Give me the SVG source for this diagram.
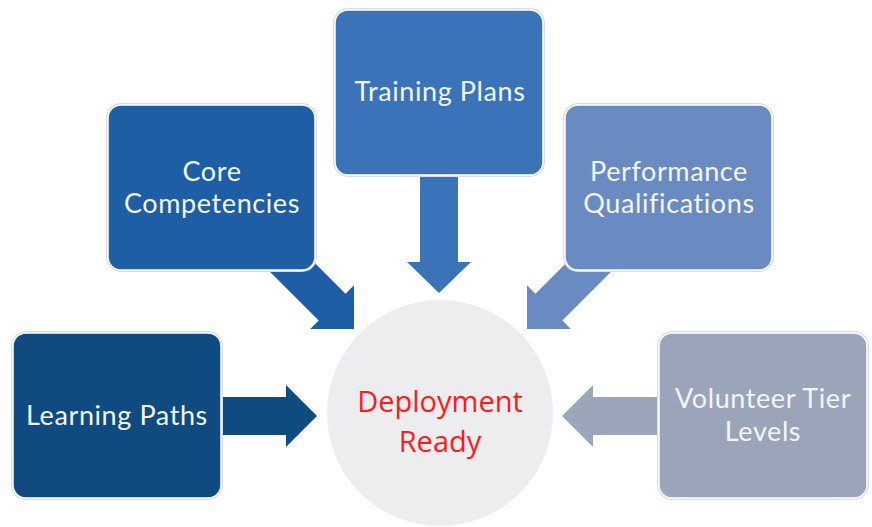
<svg xmlns="http://www.w3.org/2000/svg" width="872" height="527" viewBox="0 0 872 527">
  <style>
    .box { stroke: #ffffff; stroke-width: 1.5; }
    .halo { fill: none; stroke: #d9dde3; stroke-width: 4; }
    .lbl { font-family: Lato, "Liberation Sans", sans-serif; font-size: 27px; letter-spacing: 0.6px; fill: #f2f5f9; text-anchor: middle; }
    .ctr { font-family: "Open Sans", "Noto Sans", sans-serif; font-size: 29px; fill: #ff1a1a; text-anchor: middle; }
  </style>
  <rect width="872" height="527" fill="#ffffff"/>

  <g id="connectors">
    <polygon fill="#0f4b80" points="317,416 286,385 286,397 222,397 222,435 286,435 286,447"/>
    <polygon fill="#1d5ea5" transform="translate(354,329) rotate(45)" points="0,0 -31,-31 -31,-19 -112,-19 -112,19 -31,19 -31,31"/>
    <polygon fill="#3b73b9" transform="translate(439,293) rotate(90)" points="0,0 -31,-32 -31,-19 -118,-19 -118,19 -31,19 -31,32"/>
    <polygon fill="#6a8bc1" transform="translate(527,329) rotate(135)" points="0,0 -31,-31 -31,-19 -112,-19 -112,19 -31,19 -31,31"/>
    <polygon fill="#9aa5ba" points="562,416 593,385 593,397 660,397 660,435 593,435 593,447"/>
  </g>

  <g id="node-deployment-ready">
    <circle cx="440" cy="413" r="113" fill="#ededf0"/>
    <text class="ctr" x="440" y="412">Deployment</text>
    <text class="ctr" x="440" y="452">Ready</text>
  </g>

  <g id="node-training-plans">
    <rect class="halo" x="335" y="10" width="208" height="165" rx="13"/>
    <rect class="box" x="335" y="10" width="208" height="165" rx="13" fill="#3b73b9"/>
    <text class="lbl" x="440" y="101">Training Plans</text>
  </g>

  <g id="node-core-competencies">
    <rect class="halo" x="108" y="105" width="207" height="165" rx="13"/>
    <rect class="box" x="108" y="105" width="207" height="165" rx="13" fill="#1d5ea5"/>
    <text class="lbl" x="212" y="181">Core</text>
    <text class="lbl" x="212" y="213">Competencies</text>
  </g>

  <g id="node-performance-qualifications">
    <rect class="halo" x="565" y="105" width="207" height="165" rx="13"/>
    <rect class="box" x="565" y="105" width="207" height="165" rx="13" fill="#6a8bc1"/>
    <text class="lbl" x="669" y="181">Performance</text>
    <text class="lbl" x="669" y="213">Qualifications</text>
  </g>

  <g id="node-learning-paths">
    <rect class="halo" x="13" y="333" width="208" height="165" rx="13"/>
    <rect class="box" x="13" y="333" width="208" height="165" rx="13" fill="#0f4b80"/>
    <text class="lbl" x="117" y="425">Learning Paths</text>
  </g>

  <g id="node-volunteer-tier-levels">
    <rect class="halo" x="659" y="333" width="208" height="165" rx="13"/>
    <rect class="box" x="659" y="333" width="208" height="165" rx="13" fill="#9aa5ba"/>
    <text class="lbl" x="763" y="408">Volunteer Tier</text>
    <text class="lbl" x="763" y="441">Levels</text>
  </g>
</svg>
